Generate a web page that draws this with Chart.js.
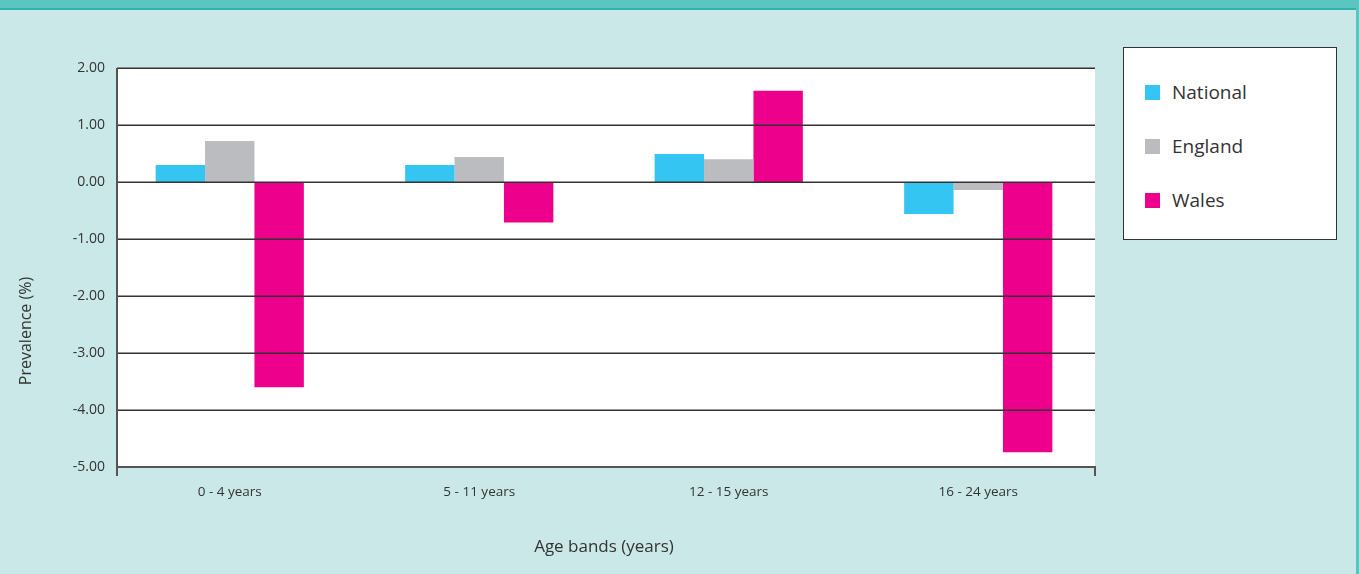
<!DOCTYPE html>
<html>
<head>
<meta charset="utf-8">
<script src="https://cdn.jsdelivr.net/npm/chart.js@4/dist/chart.umd.min.js"></script>
<style>
    html, body { margin: 0; padding: 0; }
    body {
        width: 1359px; height: 574px; overflow: hidden; position: relative;
        background: #c9e8e7; font-family: "Open Sans", sans-serif;
    }
    #band { position: absolute; left: 0; top: 0; width: 1359px; height: 8px; background: #5bc5c0; border-bottom: 2px solid #2fb2ab; }
    #edge { position: absolute; right: 0; top: 0; width: 3px; height: 574px; background: #5bc5c0; }
    #chart { position: absolute; left: 0; top: 0; }
    #legend {
        position: absolute; left: 1123px; top: 47px; width: 212px; height: 191px;
        background: #fff; border: 1.5px solid #333;
    }
    .item { position: absolute; left: 21px; height: 24px; display: flex; align-items: center; color: #333; font-size: 19px; }
    .swatch { width: 15px; height: 15px; margin-right: 12px; }
</style>
</head>
<body>
<div id="band"></div>
<div id="edge"></div>
<canvas id="chart" width="1359" height="574"></canvas>
<div id="legend"></div>
<script>
// Prevalence change (%) by age band
const AGE_BANDS = ["0 - 4 years", "5 - 11 years", "12 - 15 years", "16 - 24 years"];
const SERIES_NAMES = ["National", "England", "Wales"];
const NATIONAL = [0.30, 0.30, 0.49, -0.56];
const ENGLAND  = [0.72, 0.44, 0.40, -0.14];
const WALES    = [-3.60, -0.71, 1.60, -4.74];
const COLOURS  = ["#35c5f2", "#bbbcc0", "#ec008c"];
const Y_MIN = -5, Y_MAX = 2, Y_STEP = 1;

const FONT = "'Open Sans', sans-serif";
const TEXT = "#333";

// the white panel is a little narrower than the category scale
const PANEL_LEFT = 117, PANEL_RIGHT = 1095;

// white plot panel behind the bars
const plotPanel = {
    id: "plotPanel",
    beforeDraw(chart) {
        const { ctx, chartArea: a } = chart;
        ctx.save();
        ctx.fillStyle = "#fff";
        ctx.fillRect(PANEL_LEFT, a.top, PANEL_RIGHT - PANEL_LEFT, a.bottom - a.top);
        ctx.restore();
    }
};

// gridlines and axis frame, drawn over the bars
const frame = {
    id: "frame",
    afterDatasetsDraw(chart) {
        const { ctx, chartArea: a, scales: { y } } = chart;
        ctx.save();
        ctx.strokeStyle = "#333";
        ctx.lineWidth = 1.5;
        y.ticks.forEach(t => {
            const py = Math.round(y.getPixelForValue(t.value)) + 0.25;
            if (t.value === Y_MIN) return;
            ctx.beginPath();
            ctx.moveTo(PANEL_LEFT, py);
            ctx.lineTo(PANEL_RIGHT, py);
            ctx.stroke();
        });
        ctx.strokeStyle = "#555";
        ctx.lineWidth = 2;
        const bottom = Math.round(y.getPixelForValue(Y_MIN));
        ctx.beginPath();
        ctx.moveTo(PANEL_LEFT, a.top);
        ctx.lineTo(PANEL_LEFT, bottom + 9);
        ctx.moveTo(PANEL_LEFT, bottom);
        ctx.lineTo(PANEL_RIGHT, bottom);
        ctx.lineTo(PANEL_RIGHT, bottom + 9);
        ctx.stroke();
        ctx.restore();
    }
};

// rotated y-axis title, sits a little below the plot centre
const yTitle = {
    id: "yTitle",
    afterDraw(chart) {
        const { ctx } = chart;
        ctx.save();
        ctx.translate(26, 331);
        ctx.rotate(-Math.PI / 2);
        ctx.font = "16px " + FONT;
        ctx.fillStyle = TEXT;
        ctx.textAlign = "center";
        ctx.textBaseline = "middle";
        ctx.fillText("Prevalence (%)", 0, 0);
        ctx.restore();
    }
};

const seriesData = [NATIONAL, ENGLAND, WALES];

const chart = new Chart(document.getElementById("chart"), {
    type: "bar",
    data: {
        labels: AGE_BANDS,
        datasets: SERIES_NAMES.map((name, i) => ({
            label: name,
            data: seriesData[i],
            backgroundColor: COLOURS[i],
            borderWidth: 0,
            barPercentage: 1,
            categoryPercentage: 0.594
        }))
    },
    options: {
        responsive: false,
        animation: false,
        layout: { padding: { top: 68, right: 256, left: 0, bottom: 0 } },
        plugins: { legend: { display: false }, tooltip: { enabled: false } },
        scales: {
            x: {
                offset: true,
                afterFit: s => { s.height = 107; },
                grid: { display: false },
                border: { display: false },
                ticks: { color: TEXT, font: { family: FONT, size: 13.5 }, padding: 9 },
                title: {
                    display: true, text: "Age bands (years)", color: TEXT,
                    font: { family: FONT, size: 17 }, padding: { bottom: 17 }
                }
            },
            y: {
                min: Y_MIN, max: Y_MAX,
                afterFit: s => { s.width = 105; },
                grid: { display: false, drawTicks: false },
                border: { display: false },
                ticks: {
                    stepSize: Y_STEP, color: TEXT, padding: 0,
                    font: { family: FONT, size: 14 },
                    callback: v => Number(v).toFixed(2)
                }
            }
        }
    },
    plugins: [plotPanel, frame, yTitle]
});

// legend box built from the same series
const legendEl = document.getElementById("legend");
legendEl.innerHTML = SERIES_NAMES.map((name, i) => `
    <div class="item" style="top:${32 + i * 54}px">
        <span class="swatch" style="background:${COLOURS[i]}"></span>${name}
    </div>`).join("");
</script>
</body>
</html>
